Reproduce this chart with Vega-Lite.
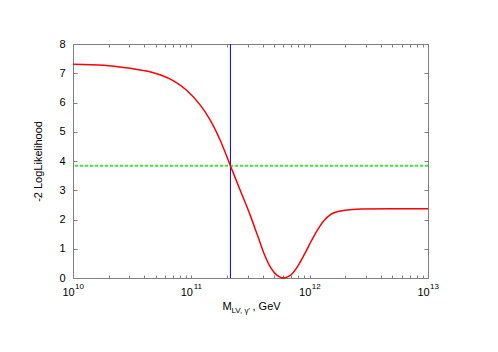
{
  "$schema": "https://vega.github.io/schema/vega-lite/v6.json",
  "width": 355,
  "height": 234,
  "autosize": "none",
  "padding": {"left": 73, "top": 44, "right": 70, "bottom": 74},
  "background": "white",
  "datasets": {
    "curve": [
      {"mass": 1e10, "loglik": 7.31},
      {"mass": 1.82e10, "loglik": 7.27},
      {"mass": 2.69e10, "loglik": 7.2},
      {"mass": 3.98e10, "loglik": 7.09},
      {"mass": 5.5e10, "loglik": 6.94},
      {"mass": 7.08e10, "loglik": 6.74},
      {"mass": 9.12e10, "loglik": 6.42},
      {"mass": 1.191e11, "loglik": 5.91},
      {"mass": 1.445e11, "loglik": 5.4},
      {"mass": 1.754e11, "loglik": 4.71},
      {"mass": 2.138e11, "loglik": 3.84},
      {"mass": 2.588e11, "loglik": 3.0},
      {"mass": 3.141e11, "loglik": 2.15},
      {"mass": 3.631e11, "loglik": 1.45},
      {"mass": 4.169e11, "loglik": 0.78},
      {"mass": 4.677e11, "loglik": 0.36},
      {"mass": 5.105e11, "loglik": 0.15},
      {"mass": 5.559e11, "loglik": 0.04},
      {"mass": 5.998e11, "loglik": 0.0},
      {"mass": 6.457e11, "loglik": 0.03},
      {"mass": 7.047e11, "loglik": 0.13},
      {"mass": 8.017e11, "loglik": 0.43},
      {"mass": 9.12e11, "loglik": 0.84},
      {"mass": 1.04e12, "loglik": 1.29},
      {"mass": 1.183e12, "loglik": 1.69},
      {"mass": 1.346e12, "loglik": 2.0},
      {"mass": 1.479e12, "loglik": 2.15},
      {"mass": 1.633e12, "loglik": 2.24},
      {"mass": 1.982e12, "loglik": 2.32},
      {"mass": 2.742e12, "loglik": 2.36},
      {"mass": 5.012e12, "loglik": 2.37},
      {"mass": 1e13, "loglik": 2.37}
    ],
    "threshold": [{"level": 3.84}],
    "limit": [{"mass": 2.14e11}]
  },
  "layer": [
    {
      "data": {"name": "threshold"},
      "mark": {"type": "rule", "color": "#33ee33", "strokeWidth": 2, "strokeDash": [3, 2]},
      "encoding": {
        "y": {
          "field": "level", "type": "quantitative",
          "scale": {"domain": [0, 8], "nice": false},
          "axis": {"orient": "right", "values": [0, 1, 2, 3, 4, 5, 6, 7, 8], "tickSize": -4, "labels": false, "grid": false, "title": null}
        }
      }
    },
    {
      "data": {"name": "limit"},
      "mark": {"type": "rule", "color": "#0000ff", "strokeWidth": 1},
      "encoding": {
        "x": {
          "field": "mass", "type": "quantitative",
          "scale": {"type": "log", "domain": [1e10, 1e13], "nice": false},
          "axis": {
            "orient": "bottom", "values": [1e10, 1e11, 1e12, 1e13],
            "ticks": false, "domain": false, "grid": false,
            "labelExpr": "format(round(log(datum.value)/LN10),'d')",
            "labelFontSize": 8, "labelOffset": 6, "labelPadding": 4,
            "labelFlush": false, "labelOverlap": false,
            "title": "LV, γ'", "titleFontSize": 8, "titleX": 158, "titleY": 34,
            "titleAlign": "left", "titleBaseline": "alphabetic"
          }
        }
      }
    },
    {
      "data": {"name": "curve"},
      "mark": {"type": "line", "color": "#ff0000", "strokeWidth": 1.5, "interpolate": "monotone"},
      "encoding": {
        "x": {
          "field": "mass", "type": "quantitative",
          "scale": {"type": "log", "domain": [1e10, 1e13], "nice": false},
          "axis": {
            "orient": "bottom",
            "values": [1e10, 2e10, 3e10, 4e10, 5e10, 6e10, 7e10, 8e10, 9e10, 1e11, 2e11, 3e11, 4e11, 5e11, 6e11, 7e11, 8e11, 9e11, 1e12, 2e12, 3e12, 4e12, 5e12, 6e12, 7e12, 8e12, 9e12, 1e13],
            "tickSize": -3, "grid": false,
            "labelExpr": "abs(log(datum.value)/LN10 - round(log(datum.value)/LN10)) < 0.000001 ? '10' : ''",
            "labelOffset": -5, "labelPadding": 11, "labelFontSize": 11,
            "labelFlush": false, "labelOverlap": false,
            "title": "M", "titleFontSize": 11, "titleX": 149, "titleY": 31,
            "titleAlign": "left", "titleBaseline": "alphabetic"
          }
        },
        "y": {
          "field": "loglik", "type": "quantitative",
          "scale": {"domain": [0, 8], "nice": false},
          "axis": {
            "orient": "left", "values": [0, 1, 2, 3, 4, 5, 6, 7, 8],
            "tickSize": -4, "labelPadding": 12, "labelFontSize": 11, "grid": false,
            "title": "-2 LogLikelihood", "titleFontSize": 11,
            "titleX": -32, "titleY": 117, "titleAngle": -90,
            "titleAlign": "center", "titleBaseline": "alphabetic"
          }
        }
      }
    },
    {
      "data": {"name": "curve"},
      "mark": {"type": "line", "opacity": 0},
      "encoding": {
        "x": {
          "field": "mass", "type": "quantitative",
          "scale": {"type": "log", "domain": [1e10, 1e13], "nice": false},
          "axis": {
            "orient": "top",
            "values": [1e10, 2e10, 3e10, 4e10, 5e10, 6e10, 7e10, 8e10, 9e10, 1e11, 2e11, 3e11, 4e11, 5e11, 6e11, 7e11, 8e11, 9e11, 1e12, 2e12, 3e12, 4e12, 5e12, 6e12, 7e12, 8e12, 9e12, 1e13],
            "tickSize": -3, "labels": false, "grid": false,
            "title": ", GeV", "titleFontSize": 11, "titleX": 179, "titleY": 265,
            "titleAlign": "left", "titleBaseline": "alphabetic"
          }
        },
        "y": {"field": "loglik", "type": "quantitative", "axis": null}
      }
    }
  ],
  "resolve": {"axis": {"x": "independent", "y": "independent"}},
  "config": {
    "view": {"stroke": null},
    "font": "Liberation Sans",
    "axis": {
      "labelFont": "Liberation Sans",
      "titleFont": "Liberation Sans",
      "labelColor": "#000000",
      "titleColor": "#000000",
      "titleFontWeight": "normal",
      "domainColor": "#808080",
      "tickColor": "#808080",
      "domainWidth": 1,
      "tickWidth": 1
    }
  }
}
